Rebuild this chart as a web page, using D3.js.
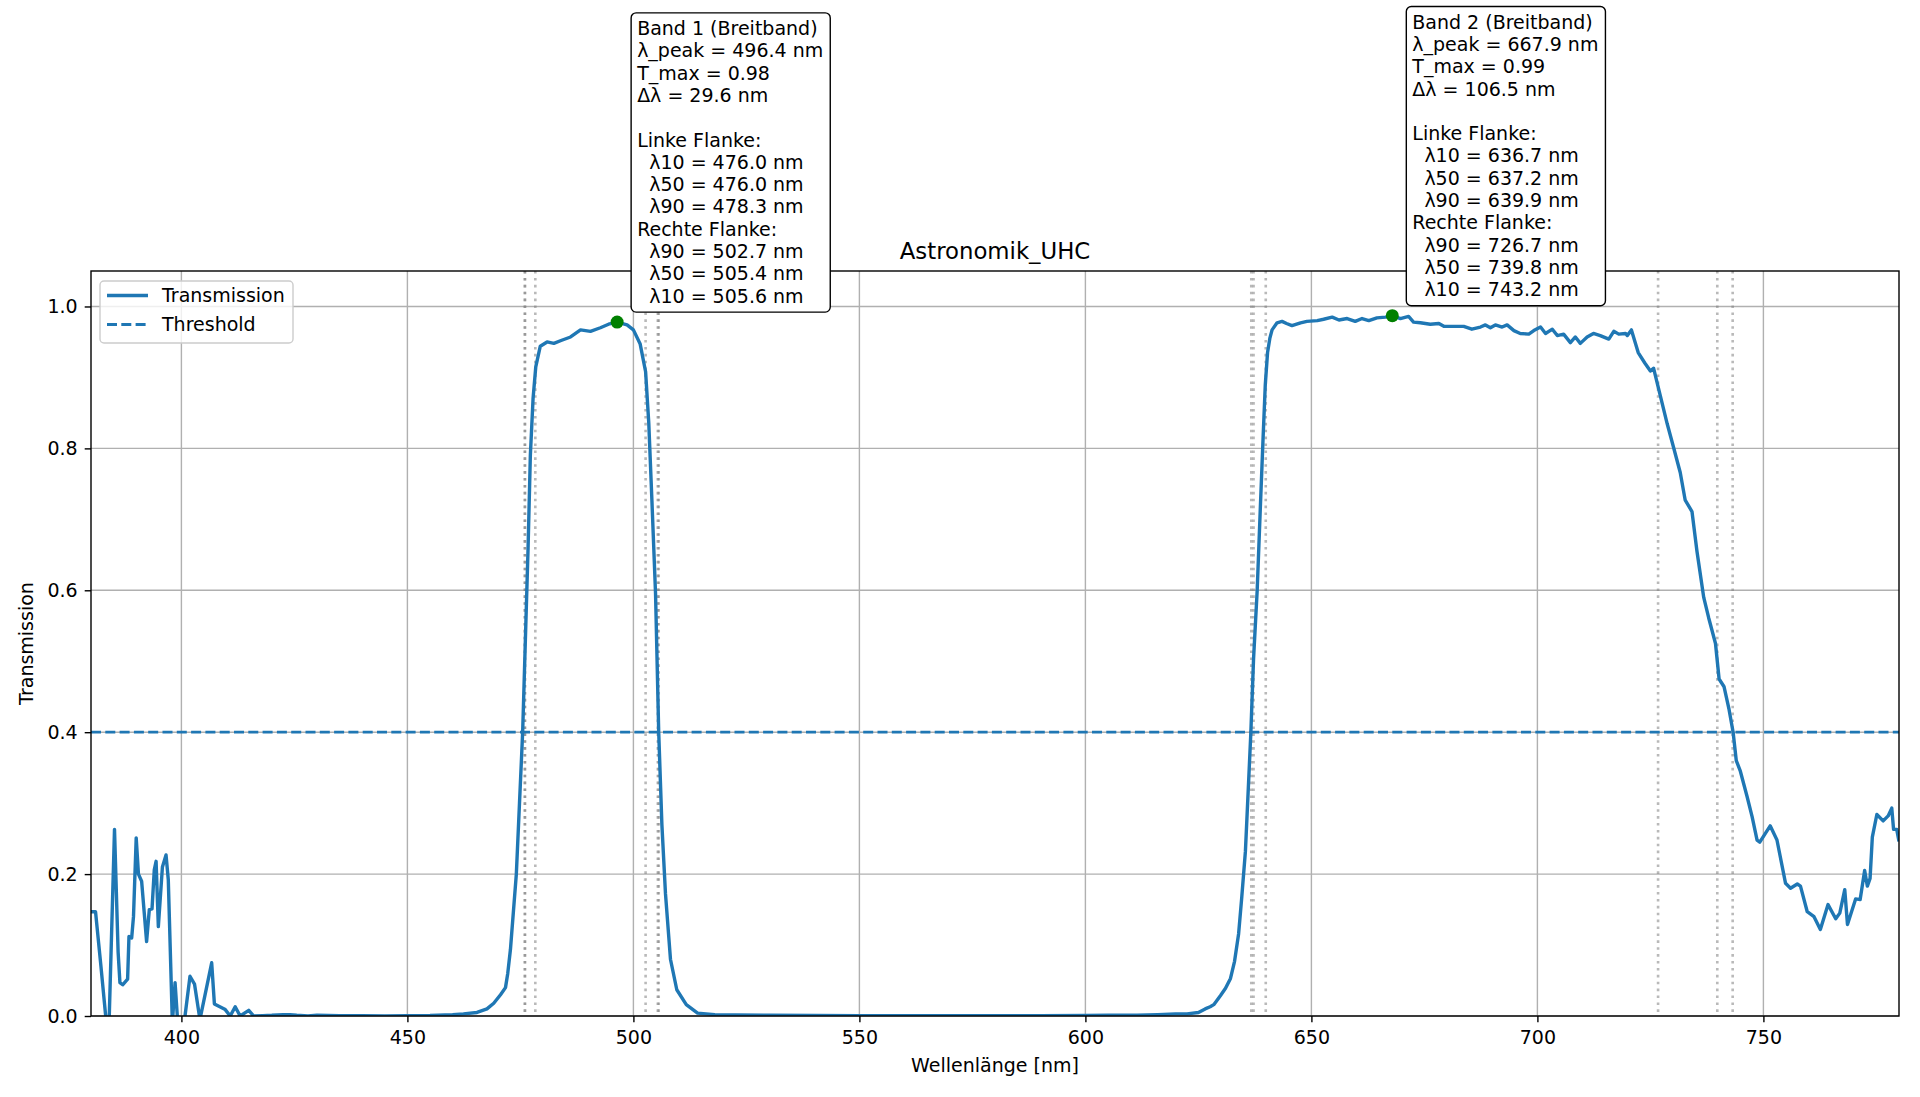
<!DOCTYPE html>
<html>
<head>
<meta charset="utf-8">
<script src="https://cdn.jsdelivr.net/npm/d3@7"></script>
<style>
  html, body { margin: 0; padding: 0; background: #fff; }
  svg { display: block; font-family: "DejaVu Sans", sans-serif; }
</style>
</head>
<body>
<svg id="chart" width="1920" height="1097"></svg>
<script>
// ---------- data ----------
const title = "Astronomik_UHC";
const xLabel = "Wellenlänge [nm]";
const yLabel = "Transmission";
const xTicks = [400, 450, 500, 550, 600, 650, 700, 750];
const yTicks = [0.0, 0.2, 0.4, 0.6, 0.8, 1.0];
const threshold = 0.4;

const wavelengths = [
  380, 381, 382.2, 383.4, 384.0, 385.2, 386.0, 386.4, 387.0, 388.1, 388.4, 389.0, 389.4, 390.0, 390.5,
  391.2, 392.3, 392.9, 393.5, 394.0, 394.4, 394.9, 395.8, 396.6, 397.1, 398.0, 398.6, 399.2, 400.0,
  400.8, 401.9, 402.9, 404.1, 406.7, 407.3, 409.7, 410.8, 411.9, 413.0, 414.9, 416.0, 418, 420, 422.5,
  424, 425.5, 428, 430, 435, 440, 445, 450, 455, 460, 462.4, 465.4, 467.6, 469.1, 470.6, 471.7, 472.2,
  472.8, 474.1, 474.8, 475.5, 476.1, 476.7, 477.2, 477.8, 478.4, 479.4, 480.9, 482.4, 484, 486.1, 488.3,
  490.5, 492.7, 494.5, 496.4, 498.6, 500.0, 501.5, 502.7, 503.4, 504.1, 504.9, 505.6, 506.3, 507.1,
  508.2, 509.6, 511.7, 514.2, 518, 522.7, 530, 540, 550, 560, 570, 580, 590, 600, 605, 611.4, 616,
  619.9, 622.5, 625.0, 626.5, 627.6, 628.4, 629.9, 631.0, 632.1, 633.0, 633.9, 634.6, 635.4, 636.1,
  636.6, 637.2, 638.0, 638.7, 639.3, 639.8, 640.3, 640.8, 641.3, 642.4, 643.5, 644.5, 645.7, 647.6,
  649.0, 651.3, 652.7, 654.6, 656.1, 657.9, 659.7, 661.2, 662.7, 664.5, 666.4, 667.9, 669.7, 671.5,
  672.6, 674.1, 676.3, 678.2, 679.3, 681.4, 683.7, 685.5, 687.4, 688.5, 689.6, 690.7, 692.2, 693.3,
  694.8, 696.2, 698.1, 699.2, 700.7, 701.8, 703.3, 704.4, 705.8, 707.3, 708.4, 709.5, 711.0, 712.4,
  713.9, 715.8, 716.9, 718.0, 719.5, 719.9, 720.8, 722.3, 723.8, 725.0, 725.7, 727.2, 728.7, 730.1,
  731.6, 732.7, 734.2, 735.3, 736.8, 737.9, 739.4, 740.2, 741.3, 742.4, 743.3, 744.0, 744.9, 746.4,
  747.5, 748.6, 749.2, 751.5, 753.0, 754.9, 756.0, 757.5, 758.2, 759.7, 761.2, 762.6, 764.3, 766.0,
  766.9, 768.0, 768.6, 770.4, 771.4, 772.4, 773.0, 773.6, 774.1, 775.1, 776.5, 777.6, 778.4, 778.8,
  779.5, 780.0
];
const transmission = [
  0.147, 0.147, 0.07, -0.01, -0.01, 0.263, 0.09, 0.047, 0.044, 0.052, 0.112, 0.110, 0.14, 0.251, 0.20,
  0.19, 0.105, 0.15, 0.151, 0.206, 0.218, 0.126, 0.21, 0.227, 0.192, -0.01, 0.047, -0.01, -0.01,
  0.0, 0.056, 0.045, -0.005, 0.075, 0.017, 0.009, 0.0, 0.013, 0.0, 0.008, 0.0, 0.0005, 0.001, 0.002,
  0.002, 0.001, 0.0, 0.001, 0.0005, 0.0005, 0.0, 0.0005, 0.0008, 0.002, 0.003, 0.005, 0.01, 0.018, 0.03, 0.04, 0.06,
  0.094, 0.2, 0.30, 0.40, 0.53, 0.66, 0.79, 0.87, 0.915, 0.944, 0.95, 0.948, 0.952, 0.957, 0.967,
  0.965, 0.97, 0.975, 0.978, 0.974, 0.967, 0.947, 0.908, 0.836, 0.726, 0.595, 0.40, 0.27, 0.172,
  0.08, 0.037, 0.016, 0.004, 0.002, 0.0016, 0.001, 0.0008, 0.0005, 0.0005, 0.0003, 0.0005, 0.0005, 0.0008, 0.001, 0.001, 0.002,
  0.003, 0.003, 0.005, 0.01, 0.013, 0.016, 0.029, 0.039, 0.053, 0.077, 0.116, 0.168, 0.232, 0.329,
  0.399, 0.503, 0.599, 0.716, 0.813, 0.89, 0.935, 0.955, 0.967, 0.977, 0.979, 0.976, 0.973, 0.977,
  0.979, 0.980, 0.982, 0.985, 0.981, 0.983, 0.979, 0.983, 0.980, 0.984, 0.985, 0.987, 0.983, 0.986,
  0.978, 0.977, 0.975, 0.976, 0.972, 0.972, 0.972, 0.968, 0.971, 0.974, 0.970, 0.974, 0.971, 0.974,
  0.966, 0.962, 0.961, 0.966, 0.971, 0.962, 0.968, 0.959, 0.961, 0.949, 0.957, 0.948, 0.957, 0.962,
  0.959, 0.954, 0.965, 0.961, 0.962, 0.959, 0.967, 0.935, 0.92, 0.909, 0.913, 0.874, 0.835, 0.802,
  0.766, 0.727, 0.711, 0.655, 0.590, 0.561, 0.525, 0.475, 0.464, 0.432, 0.40, 0.360, 0.345, 0.309,
  0.281, 0.248, 0.245, 0.268, 0.248, 0.187, 0.180, 0.186, 0.183, 0.147, 0.140, 0.122, 0.157, 0.137,
  0.145, 0.178, 0.129, 0.165, 0.164, 0.205, 0.183, 0.194, 0.252, 0.284, 0.275, 0.282, 0.293, 0.263,
  0.263, 0.246
];

const bandNames = ["Band 1 (Breitband)", "Band 2 (Breitband)"];
const peakWl = [496.4, 667.9];
const peakT = [0.978, 0.987];
const tMaxLabel = ["0.98", "0.99"];
const bandwidth = [29.6, 106.5];
const leftFlank = [[476.0, 476.0, 478.3], [636.7, 637.2, 639.9]];   // λ10, λ50, λ90
const rightFlank = [[502.7, 505.4, 505.6], [726.7, 739.8, 743.2]];  // λ90, λ50, λ10

const legendLabels = ["Transmission", "Threshold"];

// ---------- layout ----------
const svg = d3.select("#chart");
const L = 91, R = 1899, T = 271, B = 1016;
const x = d3.scaleLinear().domain([380, 780]).range([L, R]);
const y = d3.scaleLinear().domain([0, 1.05]).range([B, T]);
const blue = "#1f77b4";
const fs = 19;

svg.append("defs").append("clipPath").attr("id", "clip")
  .append("rect").attr("x", L).attr("y", T).attr("width", R - L).attr("height", B - T);

// grid
const grid = svg.append("g");
grid.selectAll(".gx").data(xTicks).join("line")
  .attr("x1", d => x(d)).attr("x2", d => x(d)).attr("y1", T).attr("y2", B)
  .attr("stroke", "#b0b0b0").attr("stroke-width", 1.4);
grid.selectAll(".gy").data(yTicks).join("line")
  .attr("x1", L).attr("x2", R).attr("y1", d => y(d)).attr("y2", d => y(d))
  .attr("stroke", "#b0b0b0").attr("stroke-width", 1.4);

// dotted flank lines
const flankVals = [];
leftFlank.forEach((a, i) => { a.forEach(v => flankVals.push(v)); rightFlank[i].forEach(v => flankVals.push(v)); });
svg.append("g").selectAll("line").data(flankVals).join("line")
  .attr("x1", d => x(d)).attr("x2", d => x(d)).attr("y1", T).attr("y2", B)
  .attr("stroke", "gray").attr("stroke-opacity", 0.55).attr("stroke-width", 2.6)
  .attr("stroke-dasharray", "2.6,4.3");

// threshold
svg.append("line")
  .attr("x1", L).attr("x2", R).attr("y1", y(threshold)).attr("y2", y(threshold))
  .attr("stroke", blue).attr("stroke-width", 2.8).attr("stroke-dasharray", "10,4.3");

// curve
const pts = wavelengths.map((w, i) => [w, transmission[i]]);
svg.append("path").datum(pts)
  .attr("clip-path", "url(#clip)")
  .attr("fill", "none").attr("stroke", blue).attr("stroke-width", 3.4)
  .attr("stroke-linejoin", "round").attr("stroke-linecap", "butt")
  .attr("d", d3.line().x(d => x(d[0])).y(d => y(d[1])));

// peak markers
svg.append("g").selectAll("circle").data(peakWl).join("circle")
  .attr("cx", d => x(d)).attr("cy", (d, i) => y(peakT[i])).attr("r", 6.5)
  .attr("fill", "green");

// axes
const xAxis = svg.append("g").attr("transform", `translate(0,${B})`)
  .call(d3.axisBottom(x).tickValues(xTicks).tickFormat(d3.format("d")).tickSize(6.3).tickPadding(8).tickSizeOuter(0));
const yAxis = svg.append("g").attr("transform", `translate(${L},0)`)
  .call(d3.axisLeft(y).tickValues(yTicks).tickFormat(d3.format(".1f")).tickSize(6.3).tickPadding(7).tickSizeOuter(0));
[xAxis, yAxis].forEach(g => {
  g.select(".domain").remove();
  g.selectAll("line").attr("stroke", "#000").attr("stroke-width", 1.4);
  g.selectAll("text").attr("font-size", fs).attr("font-family", "DejaVu Sans").attr("fill", "#000");
});

// frame
svg.append("rect").attr("x", L).attr("y", T).attr("width", R - L).attr("height", B - T)
  .attr("fill", "none").attr("stroke", "#000").attr("stroke-width", 1.4);

// labels
svg.append("text").attr("x", (L + R) / 2).attr("y", 259).attr("text-anchor", "middle")
  .attr("font-size", 22.8).text(title);
svg.append("text").attr("x", (L + R) / 2).attr("y", 1072).attr("text-anchor", "middle")
  .attr("font-size", fs).text(xLabel);
svg.append("text").attr("transform", `translate(33,${(T + B) / 2}) rotate(-90)`)
  .attr("text-anchor", "middle").attr("font-size", fs).text(yLabel);

// legend
const lg = svg.append("g");
lg.append("rect").attr("x", 100).attr("y", 281).attr("width", 193).attr("height", 62)
  .attr("rx", 4).attr("fill", "#fff").attr("fill-opacity", 0.8)
  .attr("stroke", "#cccccc").attr("stroke-width", 1.4);
legendLabels.forEach((lab, i) => {
  const cy = 295.5 + i * 29;
  lg.append("line").attr("x1", 107).attr("x2", 148).attr("y1", cy).attr("y2", cy)
    .attr("stroke", blue).attr("stroke-width", i === 0 ? 3.4 : 2.8)
    .attr("stroke-dasharray", i === 0 ? null : "10,4.3");
  lg.append("text").attr("x", 162).attr("y", cy).attr("dy", "0.36em")
    .attr("font-size", fs).text(lab);
});

// annotations
const lineH = 22.3;
peakWl.forEach((pw, i) => {
  const lines = [
    bandNames[i],
    `λ_peak = ${pw.toFixed(1)} nm`,
    `T_max = ${tMaxLabel[i]}`,
    `Δλ = ${bandwidth[i].toFixed(1)} nm`,
    "",
    "Linke Flanke:",
    `  λ10 = ${leftFlank[i][0].toFixed(1)} nm`,
    `  λ50 = ${leftFlank[i][1].toFixed(1)} nm`,
    `  λ90 = ${leftFlank[i][2].toFixed(1)} nm`,
    "Rechte Flanke:",
    `  λ90 = ${rightFlank[i][0].toFixed(1)} nm`,
    `  λ50 = ${rightFlank[i][1].toFixed(1)} nm`,
    `  λ10 = ${rightFlank[i][2].toFixed(1)} nm`
  ];
  const px = x(pw), py = y(peakT[i]);
  const boxLeft = px + 14, boxBottom = py - 10;
  const lastCenter = boxBottom - 16.3;
  const firstCenter = lastCenter - (lines.length - 1) * lineH;
  const boxTop = firstCenter - 15.3;
  const g = svg.append("g");
  const rect = g.append("rect");
  const txt = g.append("text").attr("font-size", fs).style("white-space", "pre");
  lines.forEach((l, k) => {
    txt.append("tspan").attr("x", boxLeft + 6).attr("y", firstCenter + k * lineH)
      .attr("dy", "0.36em").text(l === "" ? " " : l);
  });
  const bb = txt.node().getBBox();
  rect.attr("x", boxLeft).attr("y", boxTop).attr("width", bb.width + 12).attr("height", boxBottom - boxTop)
    .attr("rx", 5).attr("fill", "#fff").attr("stroke", "#000").attr("stroke-width", 1.4);
});
</script>
</body>
</html>
